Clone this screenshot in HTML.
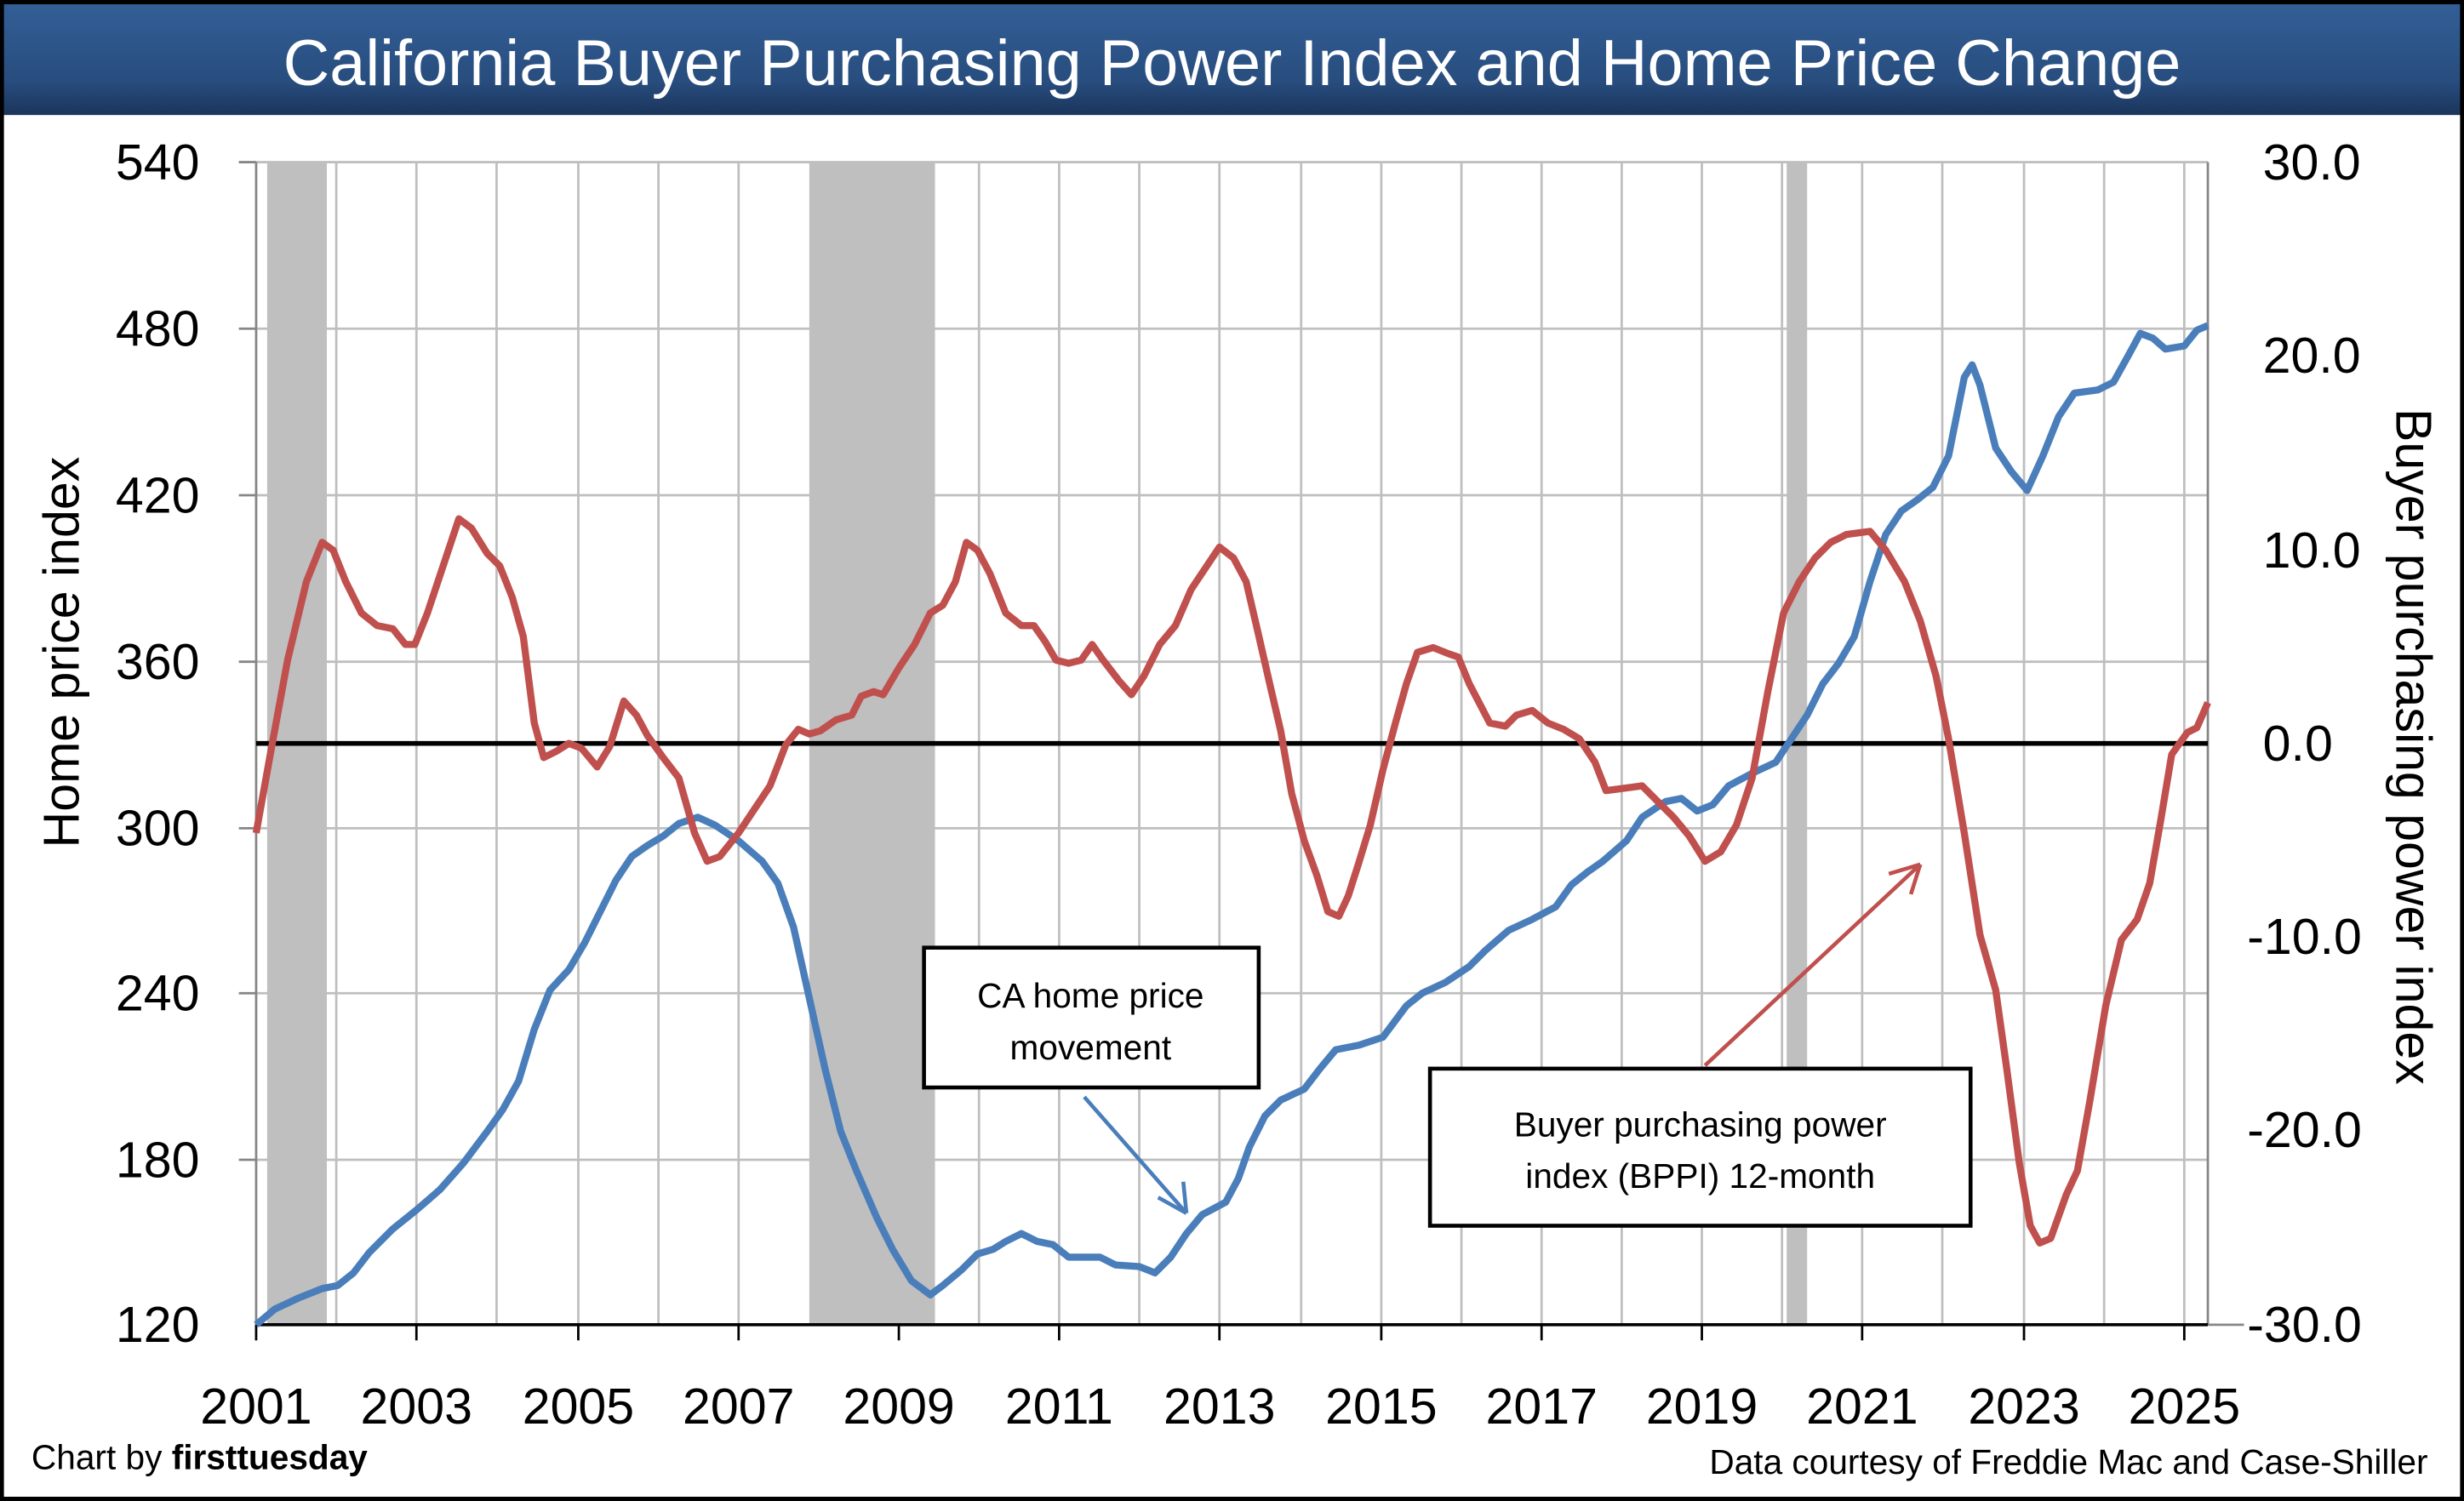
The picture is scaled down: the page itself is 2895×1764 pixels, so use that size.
<!DOCTYPE html>
<html><head><style>html,body{margin:0;padding:0;background:#fff}svg{display:block}</style></head><body>
<svg width="2895" height="1764" viewBox="0 0 1568 955" xmlns="http://www.w3.org/2000/svg" font-family="'Liberation Sans', sans-serif">
<defs><linearGradient id="g" x1="0" y1="0" x2="0" y2="1"><stop offset="0" stop-color="#335f97"/><stop offset="0.7" stop-color="#284d7e"/><stop offset="1" stop-color="#1b355c"/></linearGradient></defs>
<rect x="0" y="0" width="1568" height="955" fill="#fff"/>
<rect x="1" y="1" width="1566" height="72" fill="url(#g)"/>
<text x="784" y="54" text-anchor="middle" fill="#fff" font-size="41">California Buyer Purchasing Power Index and Home Price Change</text>
<rect x="1" y="1" width="1566" height="953" fill="none" stroke="#000" stroke-width="3"/>
<rect x="170" y="103" width="38" height="740" fill="#bfbfbf"/>
<rect x="515" y="103" width="80" height="740" fill="#bfbfbf"/>
<rect x="1137" y="103" width="13" height="740" fill="#bfbfbf"/>
<g stroke="#bfbfbf" stroke-width="1.5">
<path d="M163 103H1405M163 209H1405M163 315H1405M163 421H1405M163 527H1405M163 632H1405M163 738H1405"/>
<path d="M214 103V843M265 103V843M316 103V843M368 103V843M419 103V843M470 103V843M521 103V843M572 103V843M623 103V843M674 103V843M725 103V843M776 103V843M828 103V843M879 103V843M930 103V843M981 103V843M1032 103V843M1083 103V843M1134 103V843M1185 103V843M1236 103V843M1288 103V843M1339 103V843M1390 103V843"/>
</g>
<g stroke="#868686" stroke-width="1.5"><path d="M163 103V843M1405 103V843M1405 843H1428M152 103H163M152 209H163M152 315H163M152 421H163M152 527H163M152 632H163M152 738H163"/></g>
<path d="M163 843H1405" stroke="#000" stroke-width="2"/>
<g stroke="#000" stroke-width="1.5"><path d="M163 843v10M265 843v10M368 843v10M470 843v10M572 843v10M674 843v10M776 843v10M879 843v10M981 843v10M1083 843v10M1185 843v10M1288 843v10M1390 843v10"/></g>
<path d="M163 473H1405" stroke="#000" stroke-width="3"/>
<g font-size="32" text-anchor="end" fill="#000">
<text x="127" y="114">540</text><text x="127" y="220">480</text><text x="127" y="326">420</text><text x="127" y="432">360</text><text x="127" y="538">300</text><text x="127" y="643">240</text><text x="127" y="749">180</text><text x="127" y="854">120</text></g>
<g font-size="32" fill="#000">
<text x="1440" y="114">30.0</text><text x="1440" y="237">20.0</text><text x="1440" y="361">10.0</text><text x="1440" y="484">0.0</text><text x="1430" y="607">-10.0</text><text x="1430" y="730">-20.0</text><text x="1430" y="854">-30.0</text></g>
<g font-size="32" text-anchor="middle" fill="#000">
<text x="163" y="906">2001</text><text x="265" y="906">2003</text><text x="368" y="906">2005</text><text x="470" y="906">2007</text><text x="572" y="906">2009</text><text x="674" y="906">2011</text><text x="776" y="906">2013</text><text x="879" y="906">2015</text><text x="981" y="906">2017</text><text x="1083" y="906">2019</text><text x="1185" y="906">2021</text><text x="1288" y="906">2023</text><text x="1390" y="906">2025</text></g>
<text transform="translate(50,415) rotate(-90)" font-size="32" text-anchor="middle">Home price index</text>
<text transform="translate(1525,475) rotate(90)" font-size="32" text-anchor="middle">Buyer purchasing power index</text>
<text x="20" y="935" font-size="22">Chart by <tspan font-weight="bold">firsttuesday</tspan></text>
<text x="1545" y="938" font-size="22" text-anchor="end">Data courtesy of Freddie Mac and Case-Shiller</text>
<polyline fill="none" stroke="#4a7ebb" stroke-width="4.5" stroke-linejoin="round" points="163,843 175,833 190,826 205,820 215,818 225,810 235,797 250,782 265,770 280,757 295,740 310,720 320,706 330,688 340,655 350,630 362,617 372,600 382,580 392,560 402,545 412,538 422,532 432,524 444,520 455,525 470,535 485,548 495,562 505,590 515,635 525,680 535,720 545,745 558,775 568,795 580,815 592,824 600,818 612,808 622,798 632,795 640,790 650,785 660,790 670,792 680,800 690,800 700,800 710,805 725,806 735,810 745,800 755,785 765,773 780,765 788,750 795,730 805,710 815,700 830,693 840,680 850,668 865,665 880,660 895,640 905,632 920,625 935,615 945,605 960,592 975,585 990,577 1000,563 1010,555 1020,548 1035,535 1045,520 1060,510 1070,508 1080,516 1090,512 1100,500 1115,492 1130,485 1140,470 1150,455 1160,435 1170,422 1180,405 1190,370 1200,340 1210,325 1220,318 1230,310 1240,290 1250,240 1255,232 1260,245 1270,285 1280,300 1290,312 1300,290 1310,265 1320,250 1335,248 1345,243 1355,225 1362,212 1370,215 1378,222 1390,220 1398,210 1405,207"/>
<polyline fill="none" stroke="#c0504d" stroke-width="4.5" stroke-linejoin="round" points="163,530 172,480 183,420 195,370 205,345 212,350 220,370 230,390 240,398 250,400 258,410 264,410 272,390 282,360 292,330 300,336 310,352 318,360 326,380 333,405 340,460 346,482 354,478 362,473 370,476 380,488 388,475 397,446 405,455 412,468 422,482 432,495 442,530 450,548 458,545 470,530 480,515 490,500 500,474 508,464 515,467 522,465 532,458 542,455 548,443 556,440 562,442 572,425 582,410 592,390 600,385 608,370 615,345 622,350 630,365 640,390 650,398 658,398 665,408 672,420 680,422 688,420 695,410 702,420 712,433 720,442 728,430 738,410 748,398 758,375 768,360 776,348 785,355 793,370 800,400 808,435 815,465 822,505 830,535 838,557 845,580 852,583 858,570 865,548 872,525 880,490 888,460 895,435 902,415 912,412 922,416 928,418 935,435 948,460 958,462 965,455 975,452 985,460 995,464 1005,470 1015,485 1022,503 1030,502 1045,500 1055,510 1065,520 1075,532 1085,548 1095,542 1105,525 1115,495 1125,440 1135,390 1145,370 1155,355 1165,345 1175,340 1190,338 1200,350 1212,370 1222,395 1232,430 1240,470 1250,530 1260,595 1270,630 1277,680 1285,740 1292,780 1298,791 1305,788 1315,760 1322,745 1330,700 1340,640 1350,598 1360,585 1368,562 1375,522 1382,480 1392,466 1398,463 1405,447"/>
<rect x="588" y="603" width="213" height="89" fill="#fff" stroke="#000" stroke-width="2.5"/>
<text x="694" y="641" font-size="22" text-anchor="middle">CA home price</text>
<text x="694" y="674" font-size="22" text-anchor="middle">movement</text>
<path d="M690 698L755 772M755 772L753 752M755 772L737 762" stroke="#4a7ebb" stroke-width="2.5" fill="none"/>
<rect x="910" y="680" width="344" height="100" fill="#fff" stroke="#000" stroke-width="2.5"/>
<text x="1082" y="723" font-size="22" text-anchor="middle">Buyer purchasing power</text>
<text x="1082" y="756" font-size="22" text-anchor="middle">index (BPPI) 12-month</text>
<path d="M1085 678L1222 550M1222 550L1202 556M1222 550L1216 569" stroke="#c0504d" stroke-width="2.5" fill="none"/>
</svg>
</body></html>
